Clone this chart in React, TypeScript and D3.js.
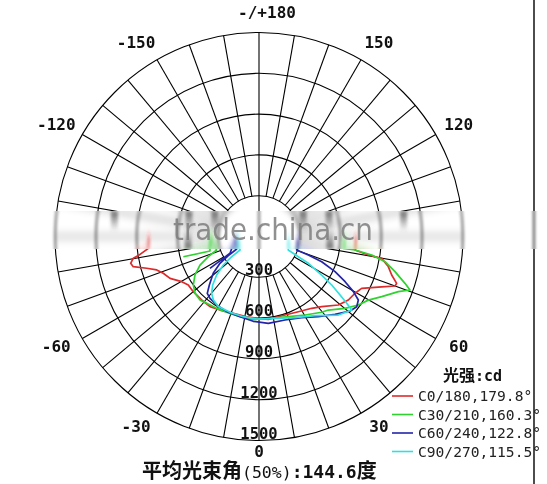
import * as d3 from 'd3';

// ring values (cd) and angle ticks
const ringValues = [300, 600, 900, 1200, 1500];
const angleTicks = [0, 30, 60, 120, 150, 180, -150, -120, -60, -30];
const angleTickLabels = ['0', '30', '60', '120', '150', '-/+180', '-150', '-120', '-60', '-30'];

// C0/180
const c0Angles = [-90, -83.9, -81.0, -80.2, -78.2, -76.5, -74.2, -71.9, -69.0, -64.8, -59.7, -55.6, -50.0, -42.1, -34.9, -27.9, -18.5, -8.7, -1.6, 6.4, 18.3, 27.6, 36.3, 41.8, 49.2, 54.6, 59.4, 63.2, 67.7, 70.0, 71.2, 73.8, 76.9, 79.9, 80.4, 82.0, 86.9, 90];
const c0Values = [810, 818, 899, 938, 964, 951, 858, 791, 754, 723, 658, 630, 631, 629, 629, 612, 596, 597, 602, 613, 608, 624, 655, 692, 771, 806, 820, 846, 975, 1064, 1069, 1016, 976, 916, 815, 713, 712, 715];

// C30/210
const c30Angles = [-75, -73.5, -90, -72.3, -68.3, -64.2, -59.0, -53.6, -48.4, -42.9, -38.1, -30.5, -20.7, -13.3, -4, 8.8, 20.1, 30.4, 39.6, 43.3, 50.1, 55.4, 59.8, 63.9, 68.4, 70.5, 72.2, 75.5, 78.7, 80.7, 82, 82, 89];
const c30Values = [576, 376, 360, 327, 401, 482, 549, 600, 629, 637, 624, 613, 604, 606, 612, 609, 628, 669, 723, 743, 824, 887, 930, 1005, 1102, 1178, 1127, 1033, 945, 840, 713, 626, 634];

// C60/240
const c60Angles = [-57, -60, -88, -60.7, -58, -55.5, -51.2, -45.7, -42.3, -38.4, -31.7, -23.2, -13.3, -3.9, 6.1, 17.3, 27.7, 36.5, 44.3, 50.7, 54.3, 57.4, 59.7, 62.3, 65.2, 68.1, 69.4, 70.3, 86];
const c60Values = [430, 246, 170, 188, 266, 348, 432, 510, 565, 580, 592, 601, 606, 625, 642, 643, 674, 733, 800, 865, 885, 867, 804, 715, 616, 497, 387, 294, 282];

// C90/270
const c90Angles = [-88, -54.6, -53.5, -51.4, -47.7, -43.7, -39.8, -35.7, -30.1, -20.9, -11.1, -1.6, 11.1, 23.9, 35.3, 45.3, 51.6, 52.7, 54.2, 56.3, 58.4, 61.5, 62.8, 65.3, 86];
const c90Values = [155, 171, 250, 336, 421, 493, 544, 575, 596, 597, 601, 607, 613, 653, 713, 821, 870, 811, 735, 643, 541, 413, 325, 237, 219];

const seriesNames = ['C0/180,179.8°', 'C30/210,160.3°', 'C60/240,122.8°', 'C90/270,115.5°'];
const seriesColors = ['#dd2a2a', '#2fd22f', '#2424a8', '#2ee0e0'];
const seriesAngles = [c0Angles, c30Angles, c60Angles, c90Angles];
const seriesValues = [c0Values, c30Values, c60Values, c90Values];

const W = 547;
const H = 484;
const cx = 259;
const cy = 236.5;
const R = 204;
const bandTop = 211;
const bandBottom = 249;
const mono = '"DejaVu Sans Mono", monospace';
const cjk = '"Noto Sans CJK SC", sans-serif';

const r = d3.scaleLinear().domain([0, 1500]).range([0, R]);
const deg = (g: number) => (g * Math.PI) / 180;
const px = (g: number, rr: number) => cx + rr * Math.sin(deg(g));
const py = (g: number, rr: number) => cy + rr * Math.cos(deg(g));

const line = d3
  .lineRadial<[number, number]>()
  .angle((d) => Math.PI - deg(d[0]))
  .radius((d) => r(d[1]));

const spokes = d3.range(-170, 190, 10).filter((g) => g !== 0 && g !== 180);

// label placement around the outer ring
function labelX(g: number) {
  const s = Math.sin(deg(g));
  const c = Math.abs(Math.cos(deg(g)));
  return cx + s * 226 + Math.sign(s) * 8 * c - (g < 0 ? 3 : 0);
}
function labelY(g: number) {
  const c = Math.cos(deg(g));
  return cy + c * (c < 0 ? 224 : 219) - (c > 0.99 ? 4 : 0);
}

function Plot() {
  return (
    <g>
      <g fill="none" stroke="#000" strokeWidth={1.1}>
        {ringValues.map((v) => (
          <circle key={v} cx={cx} cy={cy} r={r(v)} />
        ))}
        {spokes.map((g) => (
          <line key={g} x1={px(g, r(300))} y1={py(g, r(300))} x2={px(g, r(1500))} y2={py(g, r(1500))} />
        ))}
        <line x1={cx} y1={cy - R} x2={cx} y2={cy + R} />
      </g>
      <g transform={`translate(${cx},${cy})`} fill="none" strokeWidth={1.7} strokeLinejoin="round">
        {seriesAngles.map((angles, i) => (
          <path
            key={i}
            d={line(angles.map((a, j) => [a, seriesValues[i][j]] as [number, number])) || ''}
            stroke={seriesColors[i]}
          />
        ))}
      </g>
    </g>
  );
}

// where spokes cross the watermark band edges
function spokeCrossings() {
  const out: { x: number; y: number; dir: number }[] = [];
  [bandTop, bandBottom].forEach((yb, k) => {
    spokes.forEach((g) => {
      const c = Math.cos(deg(g));
      if (Math.abs(c) < 1e-6) return;
      const rr = (yb - cy) / c;
      if (rr >= r(300) && rr <= r(1500)) out.push({ x: px(g, rr), y: yb, dir: k === 0 ? 1 : -1 });
    });
  });
  return out;
}

export default function App() {
  const crossings = spokeCrossings();
  return (
    <svg width={W} height={H} style={{ display: 'block', background: '#fff' }}>
      <style>{`body{margin:0}`}</style>
      <defs>
        <filter id="wm" filterUnits="userSpaceOnUse" x={0} y={150} width={W} height={180}>
          <feGaussianBlur stdDeviation="1.4 5" />
        </filter>
        <filter id="soft" filterUnits="userSpaceOnUse" x={0} y={180} width={W} height={100}>
          <feGaussianBlur stdDeviation="1.5 2" />
        </filter>
        <clipPath id="band">
          <rect x={0} y={bandTop} width={W} height={bandBottom - bandTop} />
        </clipPath>
        <linearGradient id="smearDown" x1="0" y1="0" x2="0" y2="1">
          <stop offset="0" stopColor="#555" stopOpacity={0.85} />
          <stop offset="1" stopColor="#555" stopOpacity={0} />
        </linearGradient>
        <linearGradient id="smearUp" x1="0" y1="1" x2="0" y2="0">
          <stop offset="0" stopColor="#555" stopOpacity={0.85} />
          <stop offset="1" stopColor="#555" stopOpacity={0} />
        </linearGradient>
      </defs>

      <rect width={W} height={H} fill="#fff" />
      <Plot />

      {/* watermark band */}
      <g clipPath="url(#band)">
        <rect x={0} y={bandTop} width={W} height={bandBottom - bandTop} fill="#fff" />
        <g filter="url(#wm)">
          <Plot />
          <line x1={534} y1={0} x2={534} y2={H} stroke="#000" strokeWidth={1.4} />
        </g>
        <g filter="url(#soft)">
          {crossings.map((c, i) => (
            <rect
              key={i}
              x={c.x - 3.5}
              y={c.dir > 0 ? c.y : c.y - 20}
              width={7}
              height={20}
              fill={c.dir > 0 ? 'url(#smearDown)' : 'url(#smearUp)'}
            />
          ))}
        </g>
      </g>
      <text
        x={173}
        y={240}
        textLength={200}
        lengthAdjust="spacingAndGlyphs"
        fontFamily='"DejaVu Sans", sans-serif'
        fontSize={31}
        fill="#7d7d7d"
        fillOpacity={0.85}
      >
        trade.china.cn
      </text>

      {/* ring labels */}
      <g fontFamily={mono} fontSize={15.5} fontWeight="bold" fill="#111" textAnchor="middle">
        {ringValues.map((v) => (
          <text key={v} x={cx} y={cy + r(v) - 2}>
            {v}
          </text>
        ))}
      </g>

      {/* angle labels */}
      <g fontFamily={mono} fontSize={16} fontWeight="bold" fill="#111" textAnchor="middle" dominantBaseline="central">
        {angleTicks.map((g, i) => (
          <text key={g} x={labelX(g)} y={labelY(g)}>
            {angleTickLabels[i]}
          </text>
        ))}
      </g>

      {/* legend */}
      <text x={443} y={381} fill="#111" fontWeight="bold">
        <tspan fontFamily={cjk} fontSize={16}>光强</tspan>
        <tspan fontFamily={mono} fontSize={15}>:cd</tspan>
      </text>
      {seriesNames.map((name, i) => (
        <g key={name} transform={`translate(392,${396 + i * 18.5})`}>
          <line x1={0} x2={21} y1={0} y2={0} stroke={seriesColors[i]} strokeWidth={1.6} />
          <text x={26} y={5} fontFamily={mono} fontSize={14.6} fill="#222">
            {name}
          </text>
        </g>
      ))}

      {/* frame edge */}
      <line x1={534} y1={0} x2={534} y2={bandTop} stroke="#000" strokeWidth={1.4} />
      <line x1={534} y1={bandBottom} x2={534} y2={H} stroke="#000" strokeWidth={1.4} />

      {/* bottom title */}
      <text x={142} y={478} fill="#111">
        <tspan fontFamily={cjk} fontSize={20} fontWeight="bold">平均光束角</tspan>
        <tspan fontFamily={mono} fontSize={16.5}>(50%)</tspan>
        <tspan fontFamily={mono} fontSize={18} fontWeight="bold">:144.6</tspan>
        <tspan fontFamily={cjk} fontSize={20} fontWeight="bold">度</tspan>
      </text>
    </svg>
  );
}
